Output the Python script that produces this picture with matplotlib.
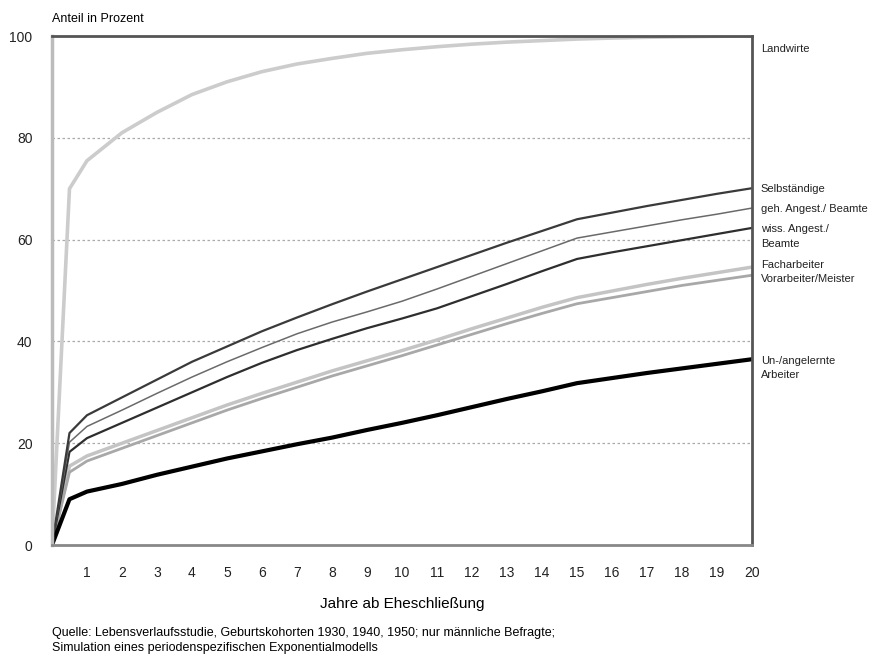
import numpy as np
import matplotlib
matplotlib.use('Agg')
import matplotlib.pyplot as plt

plt.rcParams['font.family'] = ['Liberation Sans', 'DejaVu Sans']

# Jahre ab Eheschließung
jahre = [0, 0.5, 1, 2, 3, 4, 5, 6, 7, 8, 9, 10, 11, 12, 13, 14, 15, 16, 17, 18, 19, 20]

landwirte = [0, 70, 75.5, 81, 85, 88.5, 91, 93, 94.5, 95.6, 96.6, 97.3, 97.9, 98.4,
             98.8, 99.1, 99.4, 99.6, 99.75, 99.85, 99.95, 100]
selbst = [0, 22, 25.5, 29, 32.5, 36, 39, 42, 44.7, 47.3, 49.8, 52.2, 54.6, 57,
          59.4, 61.7, 64, 65.3, 66.6, 67.8, 69, 70.1]
geh_angest = [0, 20.2, 23.3, 26.5, 29.8, 33, 36, 38.8, 41.5, 43.8, 45.8, 47.9, 50.3,
              52.8, 55.3, 57.8, 60.3, 61.5, 62.7, 63.9, 65, 66.2]
wiss_angest = [0, 18.3, 21, 24, 27, 30, 33, 35.8, 38.3, 40.5, 42.6, 44.5, 46.5,
               48.9, 51.3, 53.8, 56.2, 57.5, 58.7, 59.9, 61.1, 62.3]
facharb = [0, 15.5, 17.5, 20, 22.5, 25, 27.5, 29.8, 32, 34.2, 36.2, 38.2, 40.3,
           42.5, 44.6, 46.7, 48.6, 49.9, 51.2, 52.4, 53.5, 54.6]
vorarb = [0, 14.3, 16.5, 19, 21.5, 24, 26.5, 28.8, 31, 33.2, 35.2, 37.2, 39.3,
          41.4, 43.5, 45.5, 47.4, 48.6, 49.8, 51, 52, 53]
ungelernt = [0, 9, 10.5, 12, 13.8, 15.4, 17, 18.4, 19.8, 21.1, 22.6, 24, 25.5,
             27.1, 28.7, 30.2, 31.8, 32.8, 33.8, 34.7, 35.6, 36.5]

fig = plt.figure(figsize=(8.84, 6.62), dpi=100)
ax = fig.add_axes([0.0588, 0.1767, 0.7919, 0.7689])

ax.plot(jahre, landwirte, color='#cccccc', lw=2.6)
ax.plot(jahre, facharb, color='#c4c4c4', lw=2.5)
ax.plot(jahre, vorarb, color='#a8a8a8', lw=2)
ax.plot(jahre, wiss_angest, color='#2e2e2e', lw=1.6)
ax.plot(jahre, geh_angest, color='#6a6a6a', lw=1.1)
ax.plot(jahre, selbst, color='#3a3a3a', lw=1.6)
ax.plot(jahre, ungelernt, color='#000000', lw=3)

ax.set_xlim(0, 20)
ax.set_ylim(0, 100)
ax.set_xticks(range(1, 21))
ax.set_yticks(range(0, 101, 20))
ax.tick_params(length=0, labelsize=10, colors='#222222')
ax.tick_params(axis='y', pad=14)
ax.tick_params(axis='x', pad=15)
for y in [20, 40, 60, 80]:
    ax.axhline(y, color='#aaaaaa', lw=0.9, ls=(0, (2, 2)), zorder=0)

ax.spines['top'].set_color('#555555')
ax.spines['top'].set_linewidth(2)
ax.spines['right'].set_color('#555555')
ax.spines['right'].set_linewidth(2)
ax.spines['left'].set_color('#bbbbbb')
ax.spines['left'].set_linewidth(2.5)
ax.spines['bottom'].set_color('#888888')
ax.spines['bottom'].set_linewidth(2)

ax.set_xlabel('Jahre ab Eheschließung', fontsize=11, labelpad=12)
fig.text(0.0588, 0.962, 'Anteil in Prozent', fontsize=9, va='bottom')

# Beschriftungen rechts
labels = [(98.5, 'Landwirte'), (71.0, 'Selbständige'), (67.0, 'geh. Angest./ Beamte'),
          (63.0, 'wiss. Angest./\nBeamte'), (56.0, 'Facharbeiter\nVorarbeiter/Meister'),
          (37.2, 'Un-/angelernte\nArbeiter')]
for yv, txt in labels:
    ax.text(20.25, yv, txt, fontsize=8, va='top', ha='left', linespacing=1.55,
            color='#222222', clip_on=False)

fig.text(0.0588, 0.012, 'Quelle: Lebensverlaufsstudie, Geburtskohorten 1930, 1940, 1950; nur männliche Befragte;\n'
         'Simulation eines periodenspezifischen Exponentialmodells',
         fontsize=9, va='bottom', linespacing=1.35)

fig.savefig('out.png', dpi=100, facecolor='white')
